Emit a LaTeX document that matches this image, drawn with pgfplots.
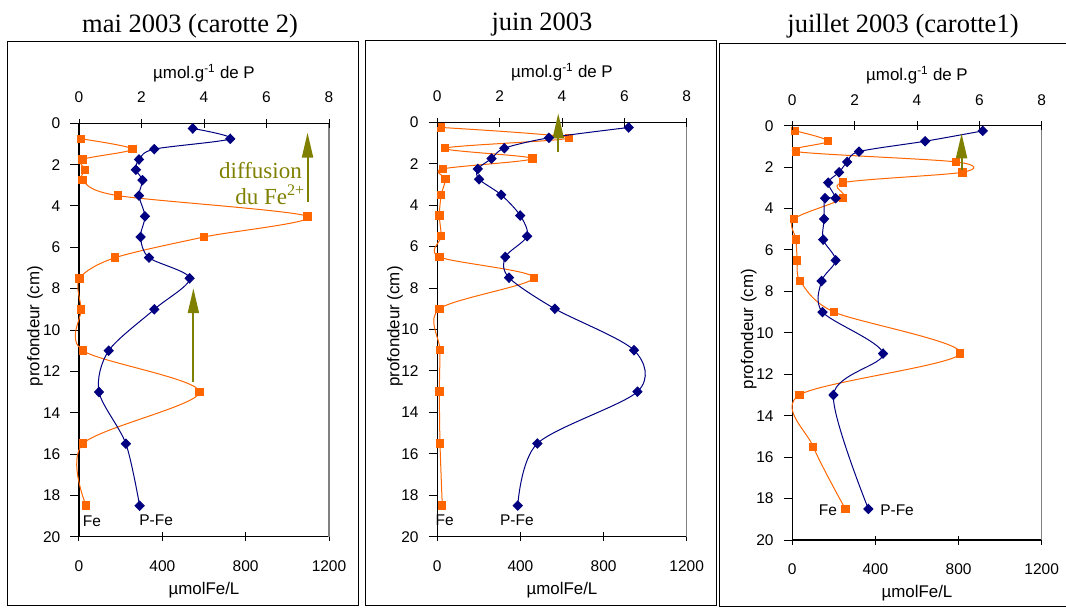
\documentclass[border=0pt]{standalone}
\usepackage{pgfplots}
\pgfplotsset{compat=1.18}
\usetikzlibrary{arrows.meta}
\usepackage{fontspec}
\setmainfont{Liberation Sans}
\newfontfamily\timesf{Liberation Serif}
\definecolor{feorange}{RGB}{255,102,0}
\definecolor{pnavy}{RGB}{0,0,128}
\definecolor{olivearr}{RGB}{128,128,0}
\newcommand{\tickfont}{\fontsize{15.5}{18}\selectfont}
\newcommand{\labfont}{\fontsize{16.9}{20}\selectfont}
\newcommand{\titfont}{\timesf\fontsize{26.5}{30}\selectfont}
\tikzset{arr/.style={olivearr, line width=2pt, -{Triangle[length=25pt,width=11pt]}}}
\pgfplotsset{
 base/.style={scale only axis, anchor=north west, ymin=0, ymax=20, y dir=reverse, clip=false,
   /pgf/number format/assume math mode=true,
   /pgf/number format/1000 sep={},
   tick label style={font=\tickfont, inner sep=0pt},
   axis line style={-, line width=1.2pt, black},
   tick style={black, line width=1pt},
   major tick length=9pt, tick align=center,
 },
 feax/.style={base, xmin=0, xmax=1200, xtick={0,400,800,1200}, ytick={0,2,...,20},
   axis x line*=bottom, axis y line*=left, scaled x ticks=false,
   xticklabel style={anchor=base, yshift=-30pt},
   yticklabel style={anchor=east, xshift=-14pt},
   ytick style={xshift=-4pt},
 },
 pax/.style={base, xmin=0, xmax=8, xtick={0,2,...,8}, axis x line*=top, hide y axis,
   xticklabel style={anchor=base, yshift=16pt},
 },
 feplot/.style={feorange, line width=1pt, smooth, mark=square*, mark size=3.7pt,
   mark options={solid, fill=feorange, draw=none}},
 pplot/.style={pnavy, line width=1pt, smooth, mark=diamond*, mark size=4.6pt,
   mark options={solid, fill=pnavy, draw=none, xscale=1.3}},
}
\begin{document}
\begin{tikzpicture}
\path[use as bounding box] (0pt,0pt) rectangle (1066pt,-609pt);
% frames
\draw[line width=1pt] (7.5pt,-41.7pt) rectangle (358pt,-605pt);
\draw[line width=1pt] (365pt,-40.7pt) rectangle (716.7pt,-605pt);
\draw[line width=1pt] (719.5pt,-43.3pt) rectangle (1070pt,-606pt);
% titles
\node[font=\titfont, anchor=base] at (190pt,-32.5pt) {mai 2003 (carotte 2)};
\node[font=\titfont, anchor=base] at (542pt,-30.5pt) {juin 2003};
\node[font=\titfont, anchor=base] at (903pt,-33pt) {juillet 2003 (carotte1)};

% ================= Panel 1 =================
\begin{axis}[feax, at={(79pt,-123.3pt)}, width=250pt, height=413.4pt]
\draw[gray, line width=1.2pt] (axis cs:1200,0) -- (axis cs:1200,20);
\addplot[feplot] coordinates {
(10,0.75) (256,1.25) (16,1.75) (30,2.25) (16,2.75) (187,3.5) (1096,4.5) (600,5.5)
(174,6.5) (3,7.5) (10,9) (19,11) (578,13) (19,15.5) (34,18.5)};
\node[font=\tickfont] at (axis cs:62,19.27) {Fe};
\node[font=\tickfont] at (axis cs:370,19.19) {P-Fe};
\end{axis}
\begin{axis}[pax, at={(79pt,-123.3pt)}, width=250pt, height=413.4pt]
\addplot[pplot] coordinates {
(3.64,0.25) (4.84,0.75) (2.41,1.25) (1.92,1.75) (1.82,2.25) (2.03,2.75) (1.92,3.5)
(2.11,4.5) (1.97,5.5) (2.24,6.5) (3.54,7.5) (2.41,9) (0.95,11) (0.64,13) (1.50,15.5) (1.94,18.5)};
\draw[arr] (axis cs:7.313,3.8) -- (axis cs:7.313,0.45);
\draw[arr] (axis cs:3.66,12.5) -- (axis cs:3.66,7.98);
\end{axis}
\node[font=\labfont, anchor=base] at (204pt,-78.3pt) {µmol.g\textsuperscript{-1} de P};
\node[font=\labfont, anchor=base] at (204pt,-594.3pt) {µmolFe/L};
\node[font=\labfont, rotate=90] at (35pt,-326pt) {profondeur (cm)};
\node[font=\timesf\fontsize{23}{26}\selectfont, text=olivearr, anchor=base east, inner sep=0pt] at (302pt,-178.3pt) {diffusion};
\node[font=\timesf\fontsize{23}{26}\selectfont, text=olivearr, anchor=base east, inner sep=0pt] at (305pt,-205pt) {du Fe\textsuperscript{2+}};

% ================= Panel 2 =================
\begin{axis}[feax, at={(437.3pt,-122.3pt)}, width=249.4pt, height=414.4pt]
\draw[gray, line width=1.2pt] (axis cs:1200,0) -- (axis cs:1200,20);
\addplot[feplot] coordinates {
(19,0.25) (634,0.75) (37,1.25) (459,1.75) (26,2.25) (40,2.75) (19,3.5) (10,4.5)
(19,5.5) (10,6.5) (464,7.5) (10,9) (13,11) (10,13) (13,15.5) (24,18.5)};
\node[font=\tickfont] at (axis cs:36,19.2) {Fe};
\node[font=\tickfont] at (axis cs:383,19.2) {P-Fe};
\end{axis}
\begin{axis}[pax, at={(437.3pt,-122.3pt)}, width=249.4pt, height=414.4pt]
\addplot[pplot] coordinates {
(6.14,0.25) (3.58,0.75) (2.15,1.25) (1.74,1.75) (1.30,2.25) (1.34,2.75) (2.05,3.5)
(2.66,4.5) (2.88,5.5) (2.18,6.5) (2.30,7.5) (3.77,9) (6.31,11) (6.42,13) (3.21,15.5) (2.58,18.5)};
\draw[arr] (axis cs:3.88,1.42) -- (axis cs:3.88,-0.43);
\end{axis}
\node[font=\labfont, anchor=base] at (562pt,-77.3pt) {µmol.g\textsuperscript{-1} de P};
\node[font=\labfont, anchor=base] at (562pt,-594.3pt) {µmolFe/L};
\node[font=\labfont, rotate=90] at (395pt,-326.4pt) {profondeur (cm)};

% ================= Panel 3 =================
\begin{axis}[feax, at={(792.3pt,-125.7pt)}, width=249.4pt, height=414.3pt]
\draw[gray, line width=1.2pt] (axis cs:1200,0) -- (axis cs:1200,20);
\addplot[feplot] coordinates {
(14,0.25) (173,0.75) (18,1.25) (789,1.75) (818,2.25) (244,2.75) (244,3.5) (8,4.5)
(18,5.5) (24,6.5) (38,7.5) (202,9) (808,11) (34,13) (101,15.5) (255,18.5)};
\node[font=\tickfont] at (axis cs:171,18.58) {Fe};
\node[font=\tickfont] at (axis cs:504,18.55) {P-Fe};
\end{axis}
\begin{axis}[pax, at={(792.3pt,-125.7pt)}, width=249.4pt, height=414.3pt]
\addplot[pplot] coordinates {
(6.11,0.25) (4.26,0.75) (2.14,1.25) (1.76,1.75) (1.50,2.25) (1.15,2.75) (1.39,3.5) (1.05,3.5)
(1.02,4.5) (0.99,5.5) (1.39,6.5) (0.94,7.5) (0.97,9) (2.91,11) (1.32,13) (2.44,18.5)};
\draw[arr] (axis cs:5.43,2.14) -- (axis cs:5.43,0.37);
\end{axis}
\node[font=\labfont, anchor=base] at (917pt,-80.7pt) {µmol.g\textsuperscript{-1} de P};
\node[font=\labfont, anchor=base] at (917pt,-597.6pt) {µmolFe/L};
\node[font=\labfont, rotate=90] at (748.7pt,-329pt) {profondeur (cm)};
\end{tikzpicture}
\end{document}
